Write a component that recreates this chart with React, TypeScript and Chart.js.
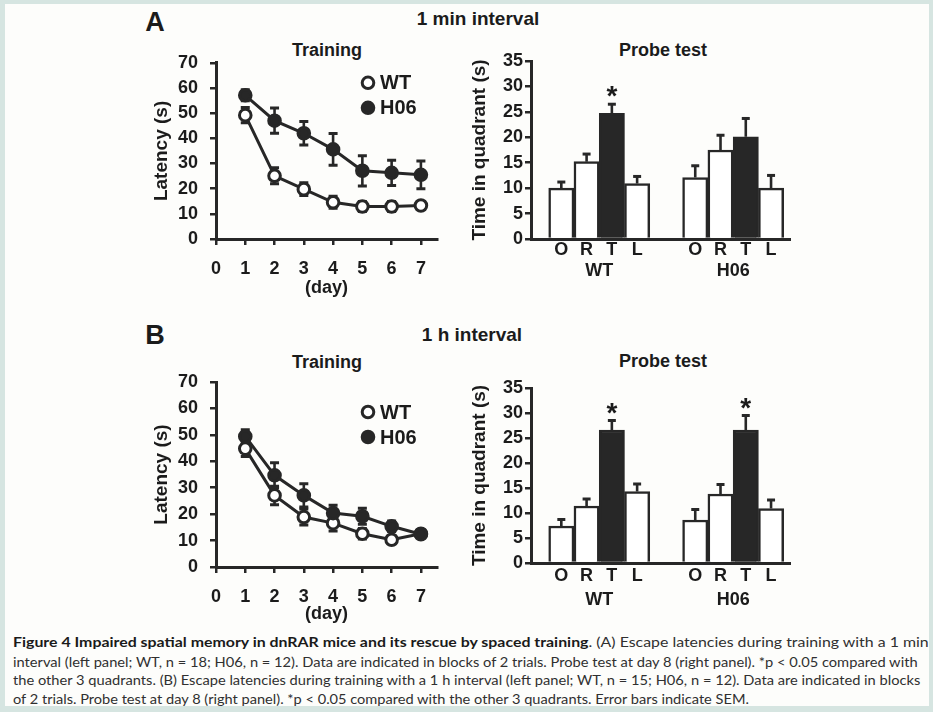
import React, { useEffect, useLayoutEffect, useRef } from 'react';
import { Chart, registerables } from 'chart.js';

Chart.register(...registerables);

// ---------------- DATA ----------------
const DAYS = [1, 2, 3, 4, 5, 6, 7];
const DAY_TICKS = [0, 1, 2, 3, 4, 5, 6, 7];
const SERIES = ['WT', 'H06'];

// Panel A (1 min interval) – training latencies (s) and SEM
const A_WT = [49.2, 25.1, 19.8, 14.6, 12.9, 12.9, 13.3];
const A_WT_SEM = [3.0, 3.2, 2.5, 2.4, 2.0, 2.0, 1.6];
const A_H06 = [57.1, 47.0, 42.0, 35.6, 27.1, 26.3, 25.5];
const A_H06_SEM = [2.2, 5.0, 4.7, 6.3, 6.0, 5.0, 5.5];

// Panel B (1 h interval) – training latencies (s) and SEM
const B_WT = [44.8, 27.1, 18.9, 16.6, 12.6, 10.3, 12.6];
const B_WT_SEM = [3.0, 3.5, 3.0, 3.0, 2.0, 1.5, 1.0];
const B_H06 = [49.4, 34.7, 27.1, 20.4, 19.2, 15.4, 12.4];
const B_H06_SEM = [2.5, 4.7, 4.4, 3.0, 3.0, 2.0, 1.0];

// Probe test – time in quadrant (s), quadrants O R T L
const QUADRANTS = ['O', 'R', 'T', 'L'];
const A_PROBE_WT = [10.0, 15.2, 24.7, 10.9];
const A_PROBE_WT_SEM = [1.2, 1.5, 1.8, 1.4];
const A_PROBE_WT_SIG = [false, false, true, false];
const A_PROBE_H06 = [12.1, 17.5, 20.1, 10.0];
const A_PROBE_H06_SEM = [2.3, 2.9, 3.6, 2.5];
const A_PROBE_H06_SIG = [false, false, false, false];

const B_PROBE_WT = [7.4, 11.4, 26.6, 14.3];
const B_PROBE_WT_SEM = [1.3, 1.4, 1.9, 1.5];
const B_PROBE_WT_SIG = [false, false, true, false];
const B_PROBE_H06 = [8.6, 13.8, 26.6, 10.9];
const B_PROBE_H06_SEM = [2.1, 1.9, 2.9, 1.7];
const B_PROBE_H06_SIG = [false, false, true, false];

const CAPTION_BOLD = 'Figure 4 Impaired spatial memory in dnRAR mice and its rescue by spaced training';
const CAPTION_LINES = [
  '. (A) Escape latencies during training with a 1 min',
  'interval (left panel; WT, n = 18; H06, n = 12). Data are indicated in blocks of 2 trials. Probe test at day 8 (right panel). *p < 0.05 compared with',
  'the other 3 quadrants. (B) Escape latencies during training with a 1 h interval (left panel; WT, n = 15; H06, n = 12). Data are indicated in blocks',
  'of 2 trials. Probe test at day 8 (right panel). *p < 0.05 compared with the other 3 quadrants. Error bars indicate SEM.',
];

// ---------------- STYLE ----------------
const FONT = '"Liberation Sans", Arial, Helvetica, sans-serif';
const DARK = '#272727';
const TEXT = '#1b1b1b';

Chart.defaults.font.family = FONT;
Chart.defaults.font.weight = 'bold';
Chart.defaults.color = TEXT;

// ---------------- PLUGINS ----------------
function drawErrors(chart: any, mode: string) {
  const ctx = chart.ctx;
  const yScale = chart.scales.y;
  chart.data.datasets.forEach((ds: any, di: number) => {
    if (ds.errorMode !== mode || !ds.errors) return;
    const meta = chart.getDatasetMeta(di);
    meta.data.forEach((el: any, i: number) => {
      const v = ds.data[i].y;
      const e = ds.errors[i];
      const x = el.x;
      const cap = ds.errorCap || 4.5;
      const yTop = yScale.getPixelForValue(v + e);
      const yBot = mode === 'both' ? yScale.getPixelForValue(v - e) : el.y;
      ctx.save();
      ctx.strokeStyle = DARK;
      ctx.lineWidth = 2.6;
      ctx.beginPath();
      ctx.moveTo(x, yBot);
      ctx.lineTo(x, yTop);
      ctx.stroke();
      ctx.lineWidth = 3;
      ctx.beginPath();
      ctx.moveTo(x - cap, yTop);
      ctx.lineTo(x + cap, yTop);
      if (mode === 'both') {
        ctx.moveTo(x - cap, yBot);
        ctx.lineTo(x + cap, yBot);
      }
      ctx.stroke();
      ctx.restore();
    });
  });
}

function drawStars(chart: any) {
  const ctx = chart.ctx;
  const yScale = chart.scales.y;
  chart.data.datasets.forEach((ds: any, di: number) => {
    if (!ds.sig) return;
    const meta = chart.getDatasetMeta(di);
    meta.data.forEach((el: any, i: number) => {
      if (!ds.sig[i]) return;
      const top = yScale.getPixelForValue(ds.data[i].y + ds.errors[i]);
      ctx.save();
      ctx.fillStyle = TEXT;
      ctx.font = `bold 28px ${FONT}`;
      ctx.textAlign = 'center';
      ctx.textBaseline = 'alphabetic';
      ctx.fillText('*', el.x, top + 1);
      ctx.restore();
    });
  });
}

const errorBarPlugin = {
  id: 'errorBars',
  beforeDatasetsDraw(chart: any) {
    drawErrors(chart, 'both');
  },
  afterDatasetsDraw(chart: any) {
    drawErrors(chart, 'up');
    drawStars(chart);
  },
};

const dotLegendPlugin = {
  id: 'dotLegend',
  afterDraw(chart: any, _args: any, opts: any) {
    if (!opts || opts.dx === undefined) return;
    const ctx = chart.ctx;
    const { left, top } = chart.chartArea;
    chart.data.datasets.forEach((ds: any, i: number) => {
      const cx = left + opts.dx;
      const cy = top + opts.dy + i * opts.gap;
      ctx.save();
      ctx.beginPath();
      ctx.arc(cx, cy, 5.8, 0, Math.PI * 2);
      ctx.fillStyle = ds.pointBackgroundColor;
      ctx.fill();
      ctx.lineWidth = 3;
      ctx.strokeStyle = DARK;
      ctx.stroke();
      ctx.fillStyle = TEXT;
      ctx.font = `bold 20px ${FONT}`;
      ctx.textAlign = 'left';
      ctx.textBaseline = 'middle';
      ctx.fillText(ds.label, cx + 12, cy + 1);
      ctx.restore();
    });
  },
};

// ---------------- CONFIG BUILDERS ----------------
type Lay = { [k: string]: number };

function trainingConfig(wt: number[], wtSem: number[], h06: number[], h06Sem: number[], lay: Lay) {
  const pts = (arr: number[]) => DAYS.map((d, i) => ({ x: d, y: arr[i] }));
  return {
    type: 'line',
    data: {
      datasets: [
        {
          label: SERIES[0],
          data: pts(wt),
          errors: wtSem,
          errorMode: 'both',
          errorCap: 4.5,
          borderColor: DARK,
          borderWidth: 3,
          backgroundColor: '#ffffff',
          pointBackgroundColor: '#ffffff',
          pointBorderColor: DARK,
          pointBorderWidth: 3,
          pointRadius: 5.8,
          order: 1,
          clip: false,
        },
        {
          label: SERIES[1],
          data: pts(h06),
          errors: h06Sem,
          errorMode: 'both',
          errorCap: 4.5,
          borderColor: DARK,
          borderWidth: 3,
          backgroundColor: DARK,
          pointBackgroundColor: DARK,
          pointBorderColor: DARK,
          pointBorderWidth: 3,
          pointRadius: 5.8,
          order: 0,
          clip: false,
        },
      ],
    },
    options: {
      responsive: false,
      animation: false,
      events: [],
      layout: { padding: { top: lay.padTop, right: lay.padRight, left: 0, bottom: 0 } },
      plugins: {
        legend: { display: false },
        tooltip: { enabled: false },
        dotLegend: { dx: lay.legDx, dy: lay.legDy, gap: 25 },
      },
      scales: {
        x: {
          type: 'linear',
          min: 0,
          max: 7.55,
          afterBuildTicks: (s: any) => {
            s.ticks = DAY_TICKS.map((v) => ({ value: v }));
          },
          afterFit: (s: any) => {
            s.height = lay.xHeight;
          },
          grid: { display: true, drawOnChartArea: false, drawTicks: true, tickLength: 6, lineWidth: 2.5, color: DARK },
          border: { display: true, width: 3, color: DARK },
          ticks: {
            padding: 13,
            autoSkip: false,
            maxRotation: 0,
            color: TEXT,
            font: { size: 18, weight: 'bold' },
            callback: (v: any) => String(v),
          },
          title: {
            display: true,
            text: '(day)',
            color: TEXT,
            font: { size: 18, weight: 'bold' },
            padding: { top: 0, bottom: lay.xTitlePad },
          },
        },
        y: {
          min: 0,
          max: 70,
          afterFit: (s: any) => {
            s.width = lay.yWidth;
          },
          grid: { display: true, drawOnChartArea: false, drawTicks: true, tickLength: 6, lineWidth: 2.5, color: DARK },
          border: { display: true, width: 3, color: DARK },
          ticks: { stepSize: 10, padding: 12, color: TEXT, font: { size: 18, weight: 'bold' } },
          title: {
            display: true,
            text: 'Latency (s)',
            color: TEXT,
            font: { size: 19, weight: 'bold' },
            padding: { top: 10, bottom: 0 },
          },
        },
      },
    },
    plugins: [errorBarPlugin, dotLegendPlugin],
  };
}

const GROUP_START = [1.2, 6.5];

function probeConfig(
  wt: number[], wtSem: number[], wtSig: boolean[],
  h06: number[], h06Sem: number[], h06Sig: boolean[],
  lay: Lay
) {
  const data: { x: number; y: number }[] = [];
  const errors: number[] = [];
  const sig: boolean[] = [];
  const colors: string[] = [];
  const tickPos: number[] = [];
  const tickLab: string[] = [];
  const groups: [number[], number[], boolean[]][] = [
    [wt, wtSem, wtSig],
    [h06, h06Sem, h06Sig],
  ];
  groups.forEach(([vals, sems, sg], g) => {
    vals.forEach((v, i) => {
      const x = GROUP_START[g] + i;
      data.push({ x, y: v });
      errors.push(sems[i]);
      sig.push(sg[i]);
      colors.push(QUADRANTS[i] === 'T' ? DARK : '#ffffff');
      tickPos.push(x);
      tickLab.push(QUADRANTS[i]);
    });
  });
  const groupCenters = GROUP_START.map((s) => s + (QUADRANTS.length - 1) / 2);
  return {
    type: 'bar',
    data: {
      datasets: [
        {
          label: 'Probe',
          data,
          errors,
          sig,
          errorMode: 'up',
          errorCap: 4,
          backgroundColor: colors,
          borderColor: DARK,
          borderWidth: 2.5,
          borderSkipped: 'start',
          barPercentage: 1,
          categoryPercentage: 1,
        },
      ],
    },
    options: {
      responsive: false,
      animation: false,
      events: [],
      layout: { padding: { top: lay.padTop, right: lay.padRight, left: 0, bottom: 0 } },
      plugins: { legend: { display: false }, tooltip: { enabled: false } },
      scales: {
        x: {
          type: 'linear',
          min: 0,
          max: 10.25,
          offset: false,
          weight: 0,
          afterBuildTicks: (s: any) => {
            s.ticks = tickPos.map((v) => ({ value: v }));
          },
          afterFit: (s: any) => {
            s.height = lay.x1Height;
          },
          grid: { display: false, drawTicks: false, offset: false },
          border: { display: true, width: 3, color: DARK },
          ticks: {
            padding: lay.x1Pad,
            autoSkip: false,
            maxRotation: 0,
            color: TEXT,
            font: { size: 18, weight: 'bold' },
            callback: (_v: any, i: number) => tickLab[i],
          },
        },
        x2: {
          type: 'linear',
          position: 'bottom',
          min: 0,
          max: 10.25,
          offset: false,
          weight: 1,
          afterBuildTicks: (s: any) => {
            s.ticks = groupCenters.map((v) => ({ value: v }));
          },
          afterFit: (s: any) => {
            s.height = lay.x2Height;
          },
          grid: { display: false, drawTicks: false, offset: false },
          border: { display: false },
          ticks: {
            padding: lay.x2Pad,
            autoSkip: false,
            maxRotation: 0,
            color: TEXT,
            font: { size: 18, weight: 'bold' },
            callback: (_v: any, i: number) => SERIES[i],
          },
        },
        y: {
          min: 0,
          max: 35,
          afterFit: (s: any) => {
            s.width = lay.yWidth;
          },
          grid: { display: true, drawOnChartArea: false, drawTicks: true, tickLength: 6, lineWidth: 2.5, color: DARK },
          border: { display: true, width: 3, color: DARK },
          ticks: { stepSize: 5, padding: 2, color: TEXT, font: { size: 18, weight: 'bold' } },
          title: {
            display: true,
            text: 'Time in quadrant (s)',
            color: TEXT,
            font: { size: 19, weight: 'bold' },
            padding: { top: 8, bottom: 0 },
          },
        },
      },
    },
    plugins: [errorBarPlugin],
  };
}

// ---------------- COMPONENTS ----------------
function ChartBox(props: { left: number; top: number; width: number; height: number; make: () => any }) {
  const ref = useRef<HTMLCanvasElement>(null);
  useEffect(() => {
    const chart = new Chart(ref.current as HTMLCanvasElement, props.make());
    return () => chart.destroy();
  }, []);
  const { left, top, width, height } = props;
  return (
    <div style={{ position: 'absolute', left, top, width, height }}>
      <canvas ref={ref} width={width} height={height} style={{ width, height, display: 'block' }} />
    </div>
  );
}

function Label(props: { x: number; y: number; size: number; text: string }) {
  return (
    <div
      style={{
        position: 'absolute',
        left: props.x,
        top: props.y,
        transform: 'translate(-50%, -50%)',
        fontFamily: FONT,
        fontWeight: 'bold',
        fontSize: props.size,
        lineHeight: 1,
        whiteSpace: 'nowrap',
        color: TEXT,
      }}
    >
      {props.text}
    </div>
  );
}

const CAPTION_TOPS = [633, 652.5, 671, 689.5];
const CAPTION_WIDTHS = [916, 905, 907, 736];

function Caption() {
  const refs = useRef<(HTMLDivElement | null)[]>([]);
  useLayoutEffect(() => {
    refs.current.forEach((el, i) => {
      if (!el) return;
      el.style.transform = 'none';
      const w = el.scrollWidth;
      if (w > 0) el.style.transform = `scaleX(${CAPTION_WIDTHS[i] / w})`;
    });
  }, []);
  return (
    <>
      {CAPTION_LINES.map((line, i) => (
        <div
          key={i}
          ref={(el) => {
            refs.current[i] = el;
          }}
          style={{
            position: 'absolute',
            left: 13,
            top: CAPTION_TOPS[i],
            fontFamily: 'Lato, "Open Sans", sans-serif',
            fontSize: 14,
            lineHeight: '18px',
            whiteSpace: 'nowrap',
            color: '#303030',
            transformOrigin: 'left center',
            display: 'inline-block',
          }}
        >
          {i === 0 ? <span style={{ fontWeight: 'bold', color: '#1a1a1a' }}>{CAPTION_BOLD}</span> : null}
          {line}
        </div>
      ))}
    </>
  );
}

export default function App() {
  return (
    <div style={{ position: 'absolute', left: 0, top: 0, width: 933, height: 712, background: '#d6e5e1', overflow: 'hidden' }}>
      <div style={{ position: 'absolute', left: 5, top: 4, width: 924, height: 702, background: '#fdfdfb' }} />

      <Label x={155} y={22} size={27} text="A" />
      <Label x={478} y={18} size={19} text="1 min interval" />
      <Label x={327} y={50} size={18} text="Training" />
      <Label x={663} y={50} size={18} text="Probe test" />

      <Label x={155} y={335} size={27} text="B" />
      <Label x={472} y={334} size={19} text="1 h interval" />
      <Label x={327} y={362} size={18} text="Training" />
      <Label x={663} y={361} size={18} text="Probe test" />

      <ChartBox
        left={140}
        top={40}
        width={310}
        height={270}
        make={() =>
          trainingConfig(A_WT, A_WT_SEM, A_H06, A_H06_SEM, {
            padTop: 22, padRight: 13, yWidth: 76, xHeight: 71, xTitlePad: 11, legDx: 152, legDy: 20,
          })
        }
      />
      <ChartBox
        left={460}
        top={40}
        width={340}
        height={250}
        make={() =>
          probeConfig(A_PROBE_WT, A_PROBE_WT_SEM, A_PROBE_WT_SIG, A_PROBE_H06, A_PROBE_H06_SEM, A_PROBE_H06_SIG, {
            padTop: 21, padRight: 10, yWidth: 71, x1Height: 20, x1Pad: 0, x2Height: 31, x2Pad: 1,
          })
        }
      />
      <ChartBox
        left={140}
        top={350}
        width={310}
        height={280}
        make={() =>
          trainingConfig(B_WT, B_WT_SEM, B_H06, B_H06_SEM, {
            padTop: 32, padRight: 13, yWidth: 76, xHeight: 63, xTitlePad: 5, legDx: 152, legDy: 30,
          })
        }
      />
      <ChartBox
        left={460}
        top={350}
        width={340}
        height={270}
        make={() =>
          probeConfig(B_PROBE_WT, B_PROBE_WT_SEM, B_PROBE_WT_SIG, B_PROBE_H06, B_PROBE_H06_SEM, B_PROBE_H06_SIG, {
            padTop: 38, padRight: 10, yWidth: 71, x1Height: 22, x1Pad: 2, x2Height: 35, x2Pad: 4,
          })
        }
      />

      <Caption />
    </div>
  );
}
